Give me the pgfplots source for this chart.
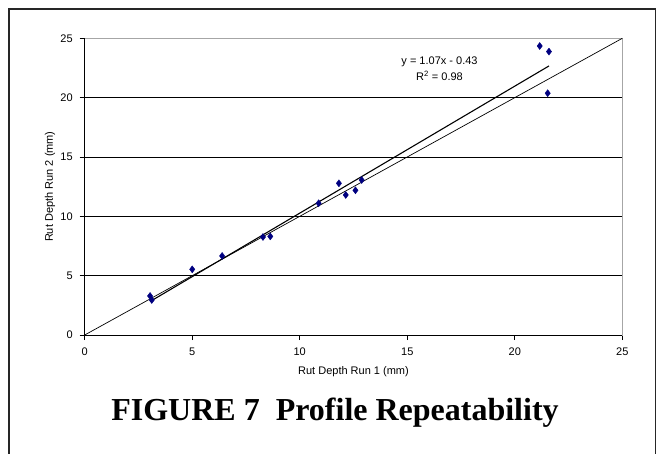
\documentclass[border=0pt]{standalone}
\usepackage{fontspec}
\setmainfont{Liberation Sans}
\newfontfamily\captionserif{Liberation Serif}
\usepackage{pgfplots}
\pgfplotsset{compat=1.18}
\definecolor{navyblue}{RGB}{0,0,128}
\begin{document}
\begin{tikzpicture}[x=1pt,y=1pt]
\useasboundingbox (0,0) rectangle (661,453);
% outer frame (open at the bottom)
\draw[line width=1.8pt, black!85] (9.3,-5) -- (9.3,443.7) -- (655.5,443.7) -- (655.5,-5);
\begin{axis}[
  at={(84.7pt,118pt)}, anchor=south west,
  scale only axis, width=537.6pt, height=296.7pt,
  xmin=0, xmax=25, ymin=0, ymax=25,
  xtick={0,5,...,25}, ytick={0,5,...,25},
  extra y ticks={5,10,15,20},
  extra y tick labels={},
  extra y tick style={grid=major, major tick length=0pt},
  grid style={black, line width=0.8pt},
  axis line style={gray!70, line width=0.8pt},
  tick align=outside, tick pos=left, major tick length=5pt,
  tick style={black, line width=0.6pt},
  ticklabel style={font=\fontsize{11}{13}\selectfont},
  xticklabel style={yshift=-4pt},
  yticklabel style={xshift=-3.5pt},
  /pgf/number format/assume math mode=true,
  xlabel={Rut Depth Run 1 (mm)},
  ylabel={Rut Depth Run 2 (mm)},
  label style={font=\fontsize{11}{13}\selectfont},
  xlabel style={at={(axis description cs:0.5,-0.1247)}, anchor=center},
  ylabel style={at={(axis description cs:-0.0645,0.5)}, anchor=center},
  clip=false,
]
% line of equality
\addplot[black, line width=0.7pt] coordinates {(0,0) (25,25)};
% linear trend line
\addplot[black, line width=1.1pt] coordinates {(3.04,2.82) (21.59,22.67)};
% measured rut depths
\addplot[only marks, mark=diamond*, mark size=3.5pt, color=navyblue] coordinates {
  (3.04,3.29) (3.12,2.95) (5.00,5.53) (6.39,6.66) (8.29,8.26) (8.63,8.31)
  (10.88,11.10) (11.82,12.78) (12.14,11.80) (12.59,12.19) (12.88,13.06)
  (21.16,24.35) (21.59,23.88) (21.53,20.37)
};
\draw[black, line width=0.8pt] (axis cs:0,25) -- (axis cs:0,0) -- (axis cs:25,0);
\node[font=\fontsize{11}{13}\selectfont] at (axis cs:16.5,23.05) {y = 1.07x - 0.43};
\node[font=\fontsize{11}{13}\selectfont] at (axis cs:16.5,21.8) {R\textsuperscript{2} = 0.98};
\end{axis}
\node[font=\captionserif\bfseries\fontsize{32}{38}\selectfont] at (335,40) {FIGURE 7\ \ Profile Repeatability};
\end{tikzpicture}
\end{document}
